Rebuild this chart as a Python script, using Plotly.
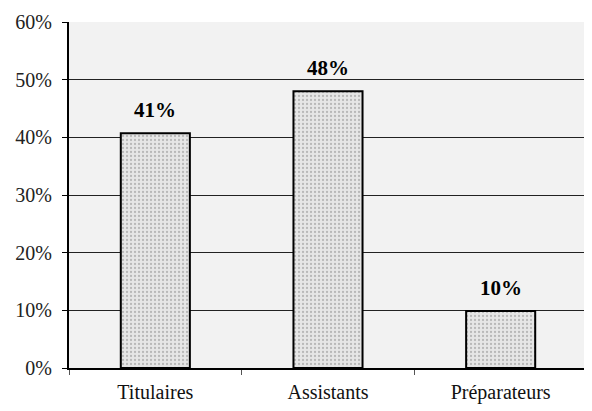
import plotly.graph_objects as go

categories = ["Titulaires", "Assistants", "Préparateurs"]
values = [0.407, 0.48, 0.099]
labels = ["41%", "48%", "10%"]
y_ticks = [0, 0.1, 0.2, 0.3, 0.4, 0.5, 0.6]
y_tick_text = ["0%", "10%", "20%", "30%", "40%", "50%", "60%"]

serif = "Liberation Serif, Times New Roman, serif"

fig = go.Figure()
fig.add_trace(go.Bar(
    x=categories, y=values, width=0.4,
    marker=dict(
        color="#e4e4e4",
        line=dict(color="black", width=2),
        pattern=dict(shape=".", fgcolor="#8a8a8a", bgcolor="#e6e6e6", size=4, solidity=0.25),
    ),
    hoverinfo="skip",
))

for c, v, t in zip(categories, values, labels):
    fig.add_annotation(x=c, y=v, text="<b>%s</b>" % t, showarrow=False,
                       yanchor="bottom", yshift=9,
                       font=dict(family=serif, size=21, color="black"))

fig.update_layout(
    width=592, height=411,
    margin=dict(l=61, r=13, t=14, b=51),
    paper_bgcolor="white",
    plot_bgcolor="#f2f2f2",
    showlegend=False,
    bargap=0.6,
    font=dict(family=serif, size=20, color="black"),
)
fig.update_yaxes(
    range=[0, 0.6], tickvals=y_ticks, ticktext=y_tick_text,
    showgrid=True, gridcolor="#222", gridwidth=1,
    showline=True, linecolor="black", linewidth=2,
    ticks="outside", ticklen=5, tickcolor="black",
    ticklabelstandoff=6, zeroline=False, automargin=False,
    tickfont=dict(family=serif, size=20, color="#222"),
)
fig.update_xaxes(
    showline=True, linecolor="black", linewidth=2,
    ticks="outside", tickson="boundaries", ticklen=5, tickcolor="#555",
    ticklabelstandoff=5, automargin=False,
    tickfont=dict(family=serif, size=20, color="#111"),
)

fig.write_html("out.html")
